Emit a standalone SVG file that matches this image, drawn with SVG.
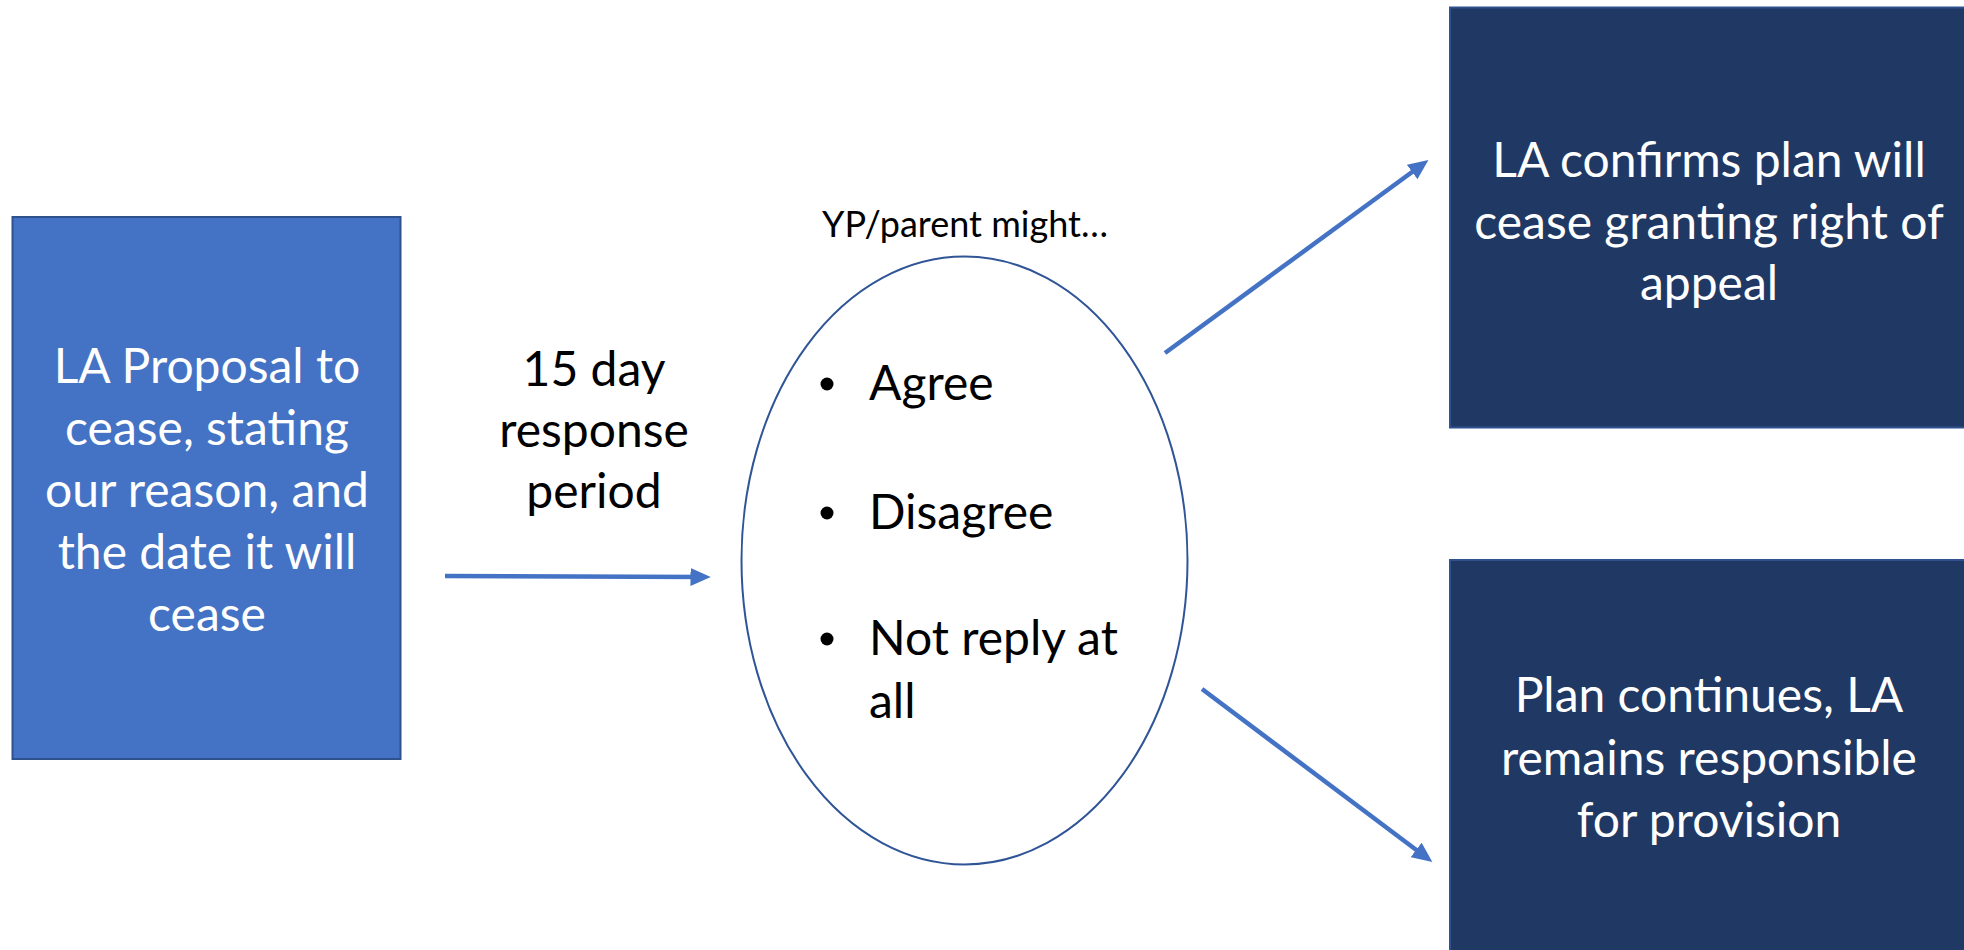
<svg xmlns="http://www.w3.org/2000/svg" width="1964" height="950" viewBox="0 0 1964 950">
<style>
.t{font-family:Lato,"Open Sans","Liberation Sans",sans-serif;font-size:48px;text-anchor:middle}
.w{fill:#ffffff}
.k{fill:#000000}
.conn{stroke:#4472C4;stroke-width:4.5;fill:none;marker-end:url(#ah)}
</style>
<defs>
<marker id="ah" markerWidth="5" markerHeight="4" refX="3" refY="2" orient="auto" markerUnits="strokeWidth">
<path d="M0,0 L4.5,2 L0,4 z" fill="#4472C4"/>
</marker>
</defs>
<rect width="1964" height="950" fill="#ffffff"/>
<g id="proposal">
<rect x="12.5" y="217" width="388" height="542" fill="#4472C4" stroke="#2F528F" stroke-width="2"/>
<text class="t w" x="207" y="383">LA Proposal to</text>
<text class="t w" x="207" y="445">cease, stating</text>
<text class="t w" x="207" y="507">our reason, and</text>
<text class="t w" x="207" y="569">the date it will</text>
<text class="t w" x="207" y="631">cease</text>
</g>
<g id="period-label">
<text class="t k" x="594" y="386">15 day</text>
<text class="t k" x="594" y="447">response</text>
<text class="t k" x="594" y="508">period</text>
</g>
<g id="responses">
<text class="t k" x="965" y="237" style="font-size:36px">YP/parent might…</text>
<ellipse cx="964.5" cy="560.5" rx="223" ry="304" fill="#ffffff" stroke="#2F5597" stroke-width="2"/>
<circle cx="827" cy="384" r="6.5" fill="#000"/>
<circle cx="827" cy="513" r="6.5" fill="#000"/>
<circle cx="827" cy="639" r="6.5" fill="#000"/>
<text class="t k" x="869" y="400" style="text-anchor:start">Agree</text>
<text class="t k" x="869" y="529" style="text-anchor:start">Disagree</text>
<text class="t k" x="869" y="655" style="text-anchor:start">Not reply at</text>
<text class="t k" x="869" y="718" style="text-anchor:start">all</text>
</g>
<g id="confirms">
<rect x="1450" y="7.5" width="520" height="420" fill="#203864" stroke="#2F528F" stroke-width="2"/>
<text class="t w" x="1709" y="177">LA confirms plan will</text>
<text class="t w" x="1709" y="239">cease granting right of</text>
<text class="t w" x="1709" y="300">appeal</text>
</g>
<g id="continues">
<rect x="1450" y="560" width="520" height="400" fill="#203864" stroke="#2F528F" stroke-width="2"/>
<text class="t w" x="1709" y="712">Plan continues, LA</text>
<text class="t w" x="1709" y="775">remains responsible</text>
<text class="t w" x="1709" y="837">for provision</text>
</g>
<g id="connectors">
<line class="conn" x1="445" y1="576" x2="704" y2="577"/>
<line class="conn" x1="1165" y1="353" x2="1423" y2="164"/>
<line class="conn" x1="1202" y1="689" x2="1427" y2="858"/>
</g>
</svg>
